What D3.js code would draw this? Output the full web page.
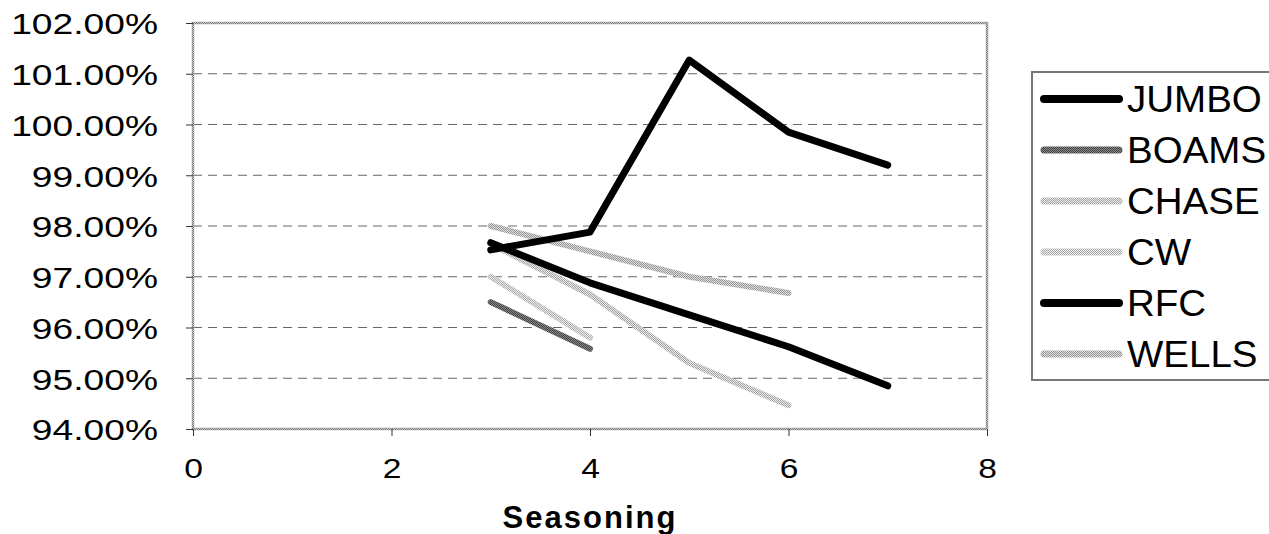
<!DOCTYPE html>
<html><head><meta charset="utf-8">
<script src="https://cdn.jsdelivr.net/npm/d3@7"></script>
<style>
html,body{margin:0;padding:0;background:#fff;}
svg{display:block;font-family:Arial,"Liberation Sans",sans-serif;}
</style></head>
<body>
<svg id="chart" width="1269" height="534"></svg>
<script>
const seasoning = [3, 4, 5, 6, 7];
const seriesNames = ["JUMBO", "BOAMS", "CHASE", "CW", "RFC", "WELLS"];
const jumbo = [0.9753, 0.9788, 1.0127, 0.9985, 0.9920];
const boams = [0.9650, 0.9558];
const chase = [0.9765, 0.9665, 0.9530, 0.9447];
const cw    = [0.9700, 0.9580];
const rfc   = [0.9767, 0.9688, 0.9625, 0.9562, 0.9485];
const wells = [0.9800, 0.9750, 0.9700, 0.9668];
const yTicks = [0.94, 0.95, 0.96, 0.97, 0.98, 0.99, 1.00, 1.01, 1.02];
const xTicks = [0, 2, 4, 6, 8];
const xTitle = "Seasoning";

const seriesValues = [jumbo, boams, chase, cw, rfc, wells];
const styles = {
  JUMBO: {stroke: "#000", width: 7},
  BOAMS: {stroke: "url(#texDark)", width: 6},
  CHASE: {stroke: "url(#texLight)", width: 6},
  CW:    {stroke: "url(#texLight2)", width: 6},
  RFC:   {stroke: "#000", width: 7},
  WELLS: {stroke: "url(#texLight3)", width: 6}
};

const svg = d3.select("#chart");
const defs = svg.append("defs");
function checker(id, a, b) {
  const p = defs.append("pattern").attr("id", id).attr("patternUnits", "userSpaceOnUse")
    .attr("width", 2).attr("height", 2);
  p.append("rect").attr("width", 2).attr("height", 2).attr("fill", b);
  p.append("rect").attr("width", 1).attr("height", 1).attr("fill", a);
  p.append("rect").attr("x", 1).attr("y", 1).attr("width", 1).attr("height", 1).attr("fill", a);
}
checker("texDark", "#404040", "#8a8a8a");
checker("texLight", "#a0a0a0", "#eeeeee");
checker("texLight2", "#a8a8a8", "#f0f0f0");
checker("texLight3", "#949494", "#e0e0e0");
checker("texFrame", "#7a7a7a", "#c8c8c8");

const L = 193, R = 987, T = 23, B = 429;
const x = d3.scaleLinear().domain([0, 8]).range([L, R]);
const y = d3.scaleLinear().domain([0.94, 1.02]).range([B, T]);

// gridlines
svg.append("g").selectAll("line").data(yTicks.slice(1, -1)).join("line")
  .attr("x1", L).attr("x2", R).attr("y1", d => y(d)).attr("y2", d => y(d))
  .attr("stroke", "#666").attr("stroke-width", 1).attr("stroke-dasharray", "9,6");

// frame
svg.append("rect").attr("x", L).attr("y", T).attr("width", R - L).attr("height", B - T)
  .attr("fill", "none").attr("stroke", "url(#texFrame)").attr("stroke-width", 2.5);

// y axis
const yAxis = svg.append("g").attr("transform", `translate(${L},0)`)
  .call(d3.axisLeft(y).tickValues(yTicks).tickSize(7).tickFormat(d3.format(".2%")));
yAxis.select(".domain").attr("stroke", "none");
yAxis.selectAll(".tick line").attr("stroke", "#333");
yAxis.selectAll(".tick text").attr("x", 0).attr("text-anchor", "end")
  .attr("font-size", 30).attr("fill", "#000").attr("font-family", "Arial, 'Liberation Sans', sans-serif")
  .attr("dy", "0.36em")
  .attr("transform", `translate(${158 - L},0) scale(1.24,1)`);

// x axis
const xAxis = svg.append("g").attr("transform", `translate(0,${B})`)
  .call(d3.axisBottom(x).tickValues(xTicks).tickSize(7).tickFormat(d3.format("d")));
xAxis.select(".domain").attr("stroke", "none");
xAxis.selectAll(".tick line").attr("stroke", "#333");
xAxis.selectAll(".tick text").attr("y", 0).attr("dy", 0)
  .attr("font-size", 28).attr("fill", "#000").attr("font-family", "Arial, 'Liberation Sans', sans-serif")
  .attr("transform", `translate(0,${478 - B}) scale(1.2,1)`);

svg.append("text").attr("x", x(4)).attr("y", 528).attr("text-anchor", "middle")
  .attr("font-size", 31).attr("font-weight", "bold").attr("letter-spacing", 2)
  .text(xTitle);

// lines
const line = d3.line().x(d => x(d[0])).y(d => y(d[1])).curve(d3.curveLinear);
const series = seriesNames.map((n, i) => ({
  name: n, pts: seriesValues[i].map((v, j) => [seasoning[j], v])
}));
const drawOrder = ["WELLS", "CHASE", "CW", "BOAMS", "RFC", "JUMBO"];
svg.append("g").selectAll("path").data(drawOrder.map(n => series.find(s => s.name === n))).join("path")
  .attr("d", d => line(d.pts)).attr("fill", "none")
  .attr("stroke", d => styles[d.name].stroke).attr("stroke-width", d => styles[d.name].width)
  .attr("stroke-linejoin", "round").attr("stroke-linecap", "round");

// legend
const lg = svg.append("g");
lg.append("rect").attr("x", 1032).attr("y", 72).attr("width", 250).attr("height", 308)
  .attr("fill", "#fff").attr("stroke", "#777").attr("stroke-width", 2);
const ly = d3.scalePoint().domain(seriesNames).range([99, 354]);
const items = lg.selectAll("g.item").data(seriesNames).join("g").attr("class", "item")
  .attr("transform", d => `translate(0,${ly(d)})`);
items.append("line").attr("x1", 1044).attr("x2", 1119).attr("y1", 0).attr("y2", 0)
  .attr("stroke", d => styles[d].stroke).attr("stroke-width", d => styles[d].width + 1)
  .attr("stroke-linecap", "round");
items.append("text").attr("x", 0).attr("y", 0).attr("dy", "0.36em")
  .attr("font-size", 36).attr("transform", "translate(1127,0) scale(1.07,1)")
  .text(d => d);
</script>
</body></html>
